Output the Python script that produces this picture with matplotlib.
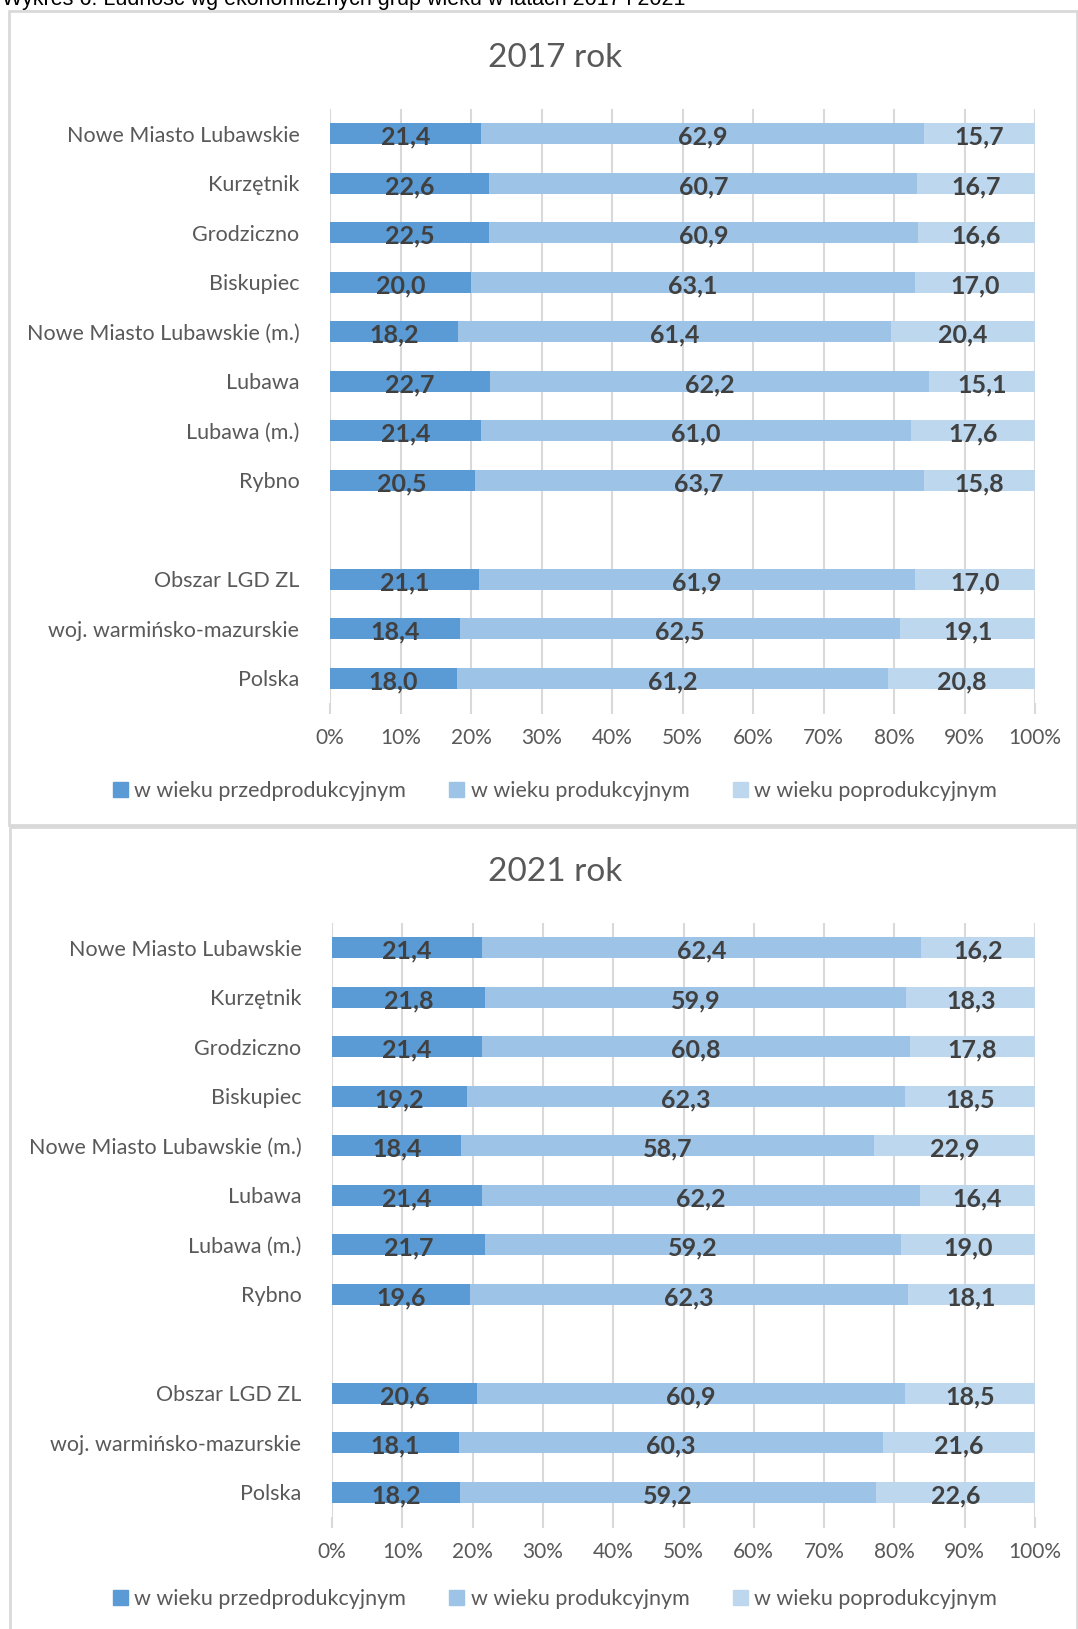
import numpy as np
import matplotlib.pyplot as plt
from matplotlib.patches import Rectangle, Patch

# categories (top to bottom), None = empty slot
categories = ["Nowe Miasto Lubawskie", "Kurzętnik", "Grodziczno", "Biskupiec",
              "Nowe Miasto Lubawskie (m.)", "Lubawa", "Lubawa (m.)", "Rybno",
              None, "Obszar LGD ZL", "woj. warmińsko-mazurskie", "Polska"]
series_names = ["w wieku przedprodukcyjnym", "w wieku produkcyjnym", "w wieku poprodukcyjnym"]

pre_2017 = [21.4, 22.6, 22.5, 20.0, 18.2, 22.7, 21.4, 20.5, 21.1, 18.4, 18.0]
prod_2017 = [62.9, 60.7, 60.9, 63.1, 61.4, 62.2, 61.0, 63.7, 61.9, 62.5, 61.2]
post_2017 = [15.7, 16.7, 16.6, 17.0, 20.4, 15.1, 17.6, 15.8, 17.0, 19.1, 20.8]

pre_2021 = [21.4, 21.8, 21.4, 19.2, 18.4, 21.4, 21.7, 19.6, 20.6, 18.1, 18.2]
prod_2021 = [62.4, 59.9, 60.8, 62.3, 58.7, 62.2, 59.2, 62.3, 60.9, 60.3, 59.2]
post_2021 = [16.2, 18.3, 17.8, 18.5, 22.9, 16.4, 19.0, 18.1, 18.5, 21.6, 22.6]

colors = ["#5B9BD5", "#9DC3E6", "#BDD7EE"]
text_gray = "#595959"
grid_gray = "#D9D9D9"
font = "Lato"

W, H = 1078, 1629
fig = plt.figure(figsize=(W / 100, H / 100), dpi=100)


def box(x0, y0, x1, y1):
    # pixel box (top-left origin) -> figure fraction rect
    return [x0 / W, 1 - y1 / H, (x1 - x0) / W, (y1 - y0) / H]


# caption, cut at the top like in the source
fig.text(2 / W, 1 - 5 / H, "Wykres 6. Ludność wg ekonomicznych grup wieku w latach 2017 i 2021",
         family="Liberation Sans", fontsize=15.5, color="black", va="baseline", ha="left")

# panel frames
fig.patches.append(Rectangle((9 / W, 1 - 825 / H), (1077 - 9) / W, (825 - 11) / H,
                             transform=fig.transFigure, fill=False, ec=grid_gray, lw=2))
fig.patches.append(Rectangle((10 / W, 1 - 1640 / H), (1077 - 10) / W, (1640 - 827) / H,
                             transform=fig.transFigure, fill=False, ec=grid_gray, lw=2))


def draw_panel(rect, title, title_y, legend_y, pre, prod, post):
    ax = fig.add_axes(rect)
    slots = [i for i, c in enumerate(categories) if c is not None]
    labels = [c for c in categories if c is not None]
    data = np.array([pre, prod, post], dtype=float)
    data = data / data.sum(axis=0) * 100
    left = np.zeros(len(slots))
    for k in range(3):
        ax.barh(slots, data[k], left=left, height=0.42, color=colors[k], zorder=2)
        for y, l, v, raw in zip(slots, left, data[k], [pre, prod, post][k]):
            ax.text(l + v / 2, y + 0.07, f"{raw:.1f}".replace(".", ","), ha="center", va="center",
                    family=font, fontweight="bold", fontsize=18, color="#404040", zorder=3)
        left += data[k]
    ax.set_xlim(0, 100)
    ax.set_ylim(len(categories) - 0.5, -0.5)
    ax.set_xticks(np.arange(0, 101, 10))
    ax.set_xticklabels([f"{v}%" for v in range(0, 101, 10)], family=font, fontsize=15, color=text_gray)
    ax.set_yticks(slots)
    ax.set_yticklabels(labels, family=font, fontsize=15.5, color=text_gray)
    ax.tick_params(axis="y", length=0, pad=22)
    ax.tick_params(axis="x", length=8, color=grid_gray, width=1.5, pad=10)
    ax.grid(axis="x", color=grid_gray, lw=1.5, zorder=0)
    for s in ax.spines.values():
        s.set_visible(False)
    fig.text(555 / W, 1 - title_y / H, title, family=font, fontsize=24, color=text_gray,
             ha="center", va="center")
    handles = [Patch(color=c) for c in colors]
    fig.legend(handles, series_names, loc="center", bbox_to_anchor=(555 / W, 1 - legend_y / H),
               ncol=3, frameon=False, prop={"family": font, "size": 15.5}, labelcolor=text_gray,
               handlelength=0.7, handleheight=0.7, handletextpad=0.3, columnspacing=2.0)
    return ax


draw_panel(box(330, 109, 1035, 703), "2017 rok", 58, 791, pre_2017, prod_2017, post_2017)
draw_panel(box(332, 923, 1035, 1517), "2021 rok", 872, 1599, pre_2021, prod_2021, post_2021)

fig.savefig("out.png", dpi=100)
